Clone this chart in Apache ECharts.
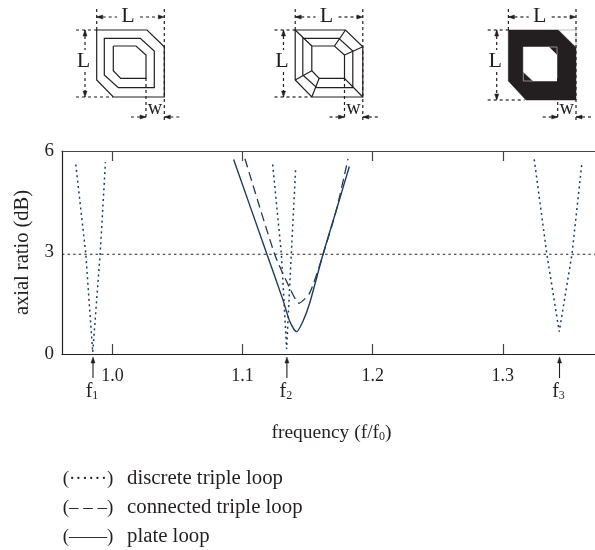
<!DOCTYPE html>
<html><head><meta charset="utf-8">
<style>html,body{margin:0;padding:0;background:#fff}#c{width:595px;height:550px}</style>
<script src="https://cdn.jsdelivr.net/npm/echarts@6/dist/echarts.min.js"></script>
</head><body><div id="c"></div>
<script>
const xTicks = [1.0, 1.1, 1.2, 1.3];
const yTicks = [0, 3, 6];
const referenceLevel = 2.95;
const discreteA = [[0.9718,5.6],[0.9795,2.95],[0.9848,0.05],[0.9905,2.95],[0.9946,5.67]];
const discreteB = [[1.1231,5.6],[1.1298,2.95],[1.1338,0.15],[1.1374,2.95],[1.1408,5.52]];
const discreteC = [[1.3241,5.75],[1.3338,2.95],[1.3433,0.66],[1.3531,2.95],[1.3608,5.67]];
const connected = [[1.1018,5.77],[1.1246,2.95],[1.1362,1.95],[1.1433,1.5],[1.1515,1.8],[1.1605,2.78],[1.172,4.25],[1.181,5.77]];
const plate = [[1.0931,5.75],[1.1187,2.95],[1.131,1.6],[1.1362,0.97],[1.1415,0.66],[1.1464,0.97],[1.1515,1.5],[1.1618,2.95],[1.172,4.25],[1.182,5.54]];
const resonances = [0.9848, 1.1338, 1.3433];
const resonanceNames = ['1','2','3'];
const legendRows = [['(······)','discrete triple loop'],['(– – –)','connected triple loop'],['(——)','plate loop']];

const FONT = '"Liberation Serif", serif';
const INK = '#231f20', NAVY = '#1d3c62';
const chart = echarts.init(document.getElementById('c'));
function curve(data, type, width, smooth){
  return {type:'line',data,symbol:'none',smooth:smooth||false,silent:true,
    lineStyle:{color:NAVY,width:width,type:type}};
}
const dots=[2,3.4], dashes=[9,5];
chart.setOption({
  animation:false,
  backgroundColor:'#fff',
  grid:{left:62,right:0,top:151,bottom:196,show:false},
  xAxis:[{type:'value',min:0.9612,max:1.3708,interval:0.1,
    axisLine:{lineStyle:{color:INK,width:1.2}},
    axisTick:{inside:true,length:10,lineStyle:{color:'#444',width:1.2},customValues:xTicks},
    axisLabel:{color:INK,fontFamily:FONT,fontSize:18,margin:13,customValues:xTicks,formatter:v=>v.toFixed(1)},
    splitLine:{show:false},
    name:'{a|frequency (f/f}{s|0}{a|)}',nameLocation:'middle',nameGap:69,
    nameTextStyle:{padding:[0,0,0,6],rich:{a:{fontFamily:FONT,fontSize:19.5,color:INK},s:{fontFamily:FONT,fontSize:12,color:INK,verticalAlign:'bottom',padding:[8,0,0,0]}}}
  },{type:'value',position:'top',min:0.9612,max:1.3708,interval:0.1,
    axisLine:{show:true,lineStyle:{color:'#444',width:1.2}},
    axisTick:{inside:true,length:10,lineStyle:{color:'#444',width:1.2},customValues:xTicks},
    axisLabel:{show:false},splitLine:{show:false}}],
  yAxis:{type:'value',min:0,max:6,interval:3,
    axisLine:{show:true,lineStyle:{color:INK,width:1.2}},axisTick:{show:false},
    axisLabel:{color:INK,fontFamily:FONT,fontSize:19,margin:8},splitLine:{show:false},
    name:'axial ratio (dB)',nameLocation:'middle',nameGap:24,
    nameTextStyle:{fontFamily:FONT,fontSize:20.5,color:INK}},
  series:[
    {type:'line',data:[[0.9612,referenceLevel],[1.3708,referenceLevel]],symbol:'none',silent:true,
      lineStyle:{color:INK,width:1.1,type:[2.4,3.2]}},
    curve(discreteA,dots,1.5),curve(discreteB,dots,1.5),curve(discreteC,dots,1.5),
    curve(connected,dashes,1.3,0.2),curve(plate,'solid',1.4,0.25)
  ]
});

const g=[];
function poly(pts,o){g.push({type:'polygon',shape:{points:pts},style:Object.assign({fill:'none',stroke:INK,lineWidth:1.2},o||{}),silent:true});}
function seg(a,b,o){g.push({type:'line',shape:{x1:a[0],y1:a[1],x2:b[0],y2:b[1]},style:Object.assign({stroke:INK,lineWidth:1.2},o||{}),silent:true});}
function txt(x,y,t,size,o){g.push({type:'text',x,y,style:Object.assign({text:t,fontFamily:FONT,fontSize:size,fill:INK,align:'center',verticalAlign:'middle'},o||{}),silent:true});}
function head(x,y,dx,dy){
  const px=-dy,py=dx;
  poly([[x,y],[x-dx*6+px*2,y-dy*6+py*2],[x-dx*6-px*2,y-dy*6-py*2]],{fill:INK,stroke:INK,lineWidth:.5});
}
const dd={stroke:INK,lineWidth:1.2,lineDash:[3,3]};
function dims(s,b){
  seg([96.7+s,9],[96.7+s,30],dd);
  seg([164.3+s,9],[164.3+s,120],dd);
  seg([96.7+s,17],[117+s,17],dd); seg([140+s,17],[164.3+s,17],dd);
  head(96.7+s,17,-1,0); head(164.3+s,17,1,0);
  txt(128+s,16.5,'L',22);
  seg([76+s,30],[96.7+s,30],dd); seg([76+s,b],[113+s,b],dd);
  seg([85+s,30],[85+s,50],dd); seg([85+s,72],[85+s,b],dd);
  head(85+s,30,0,-1); head(85+s,b,0,1);
  txt(83.5+s,61,'L',22);
  seg([146+s,78],[146+s,120],dd);
  seg([131+s,117],[146+s,117],dd); seg([164.3+s,117],[181+s,117],dd);
  head(146+s,117,1,0); head(164.3+s,117,-1,0);
  txt(155+s,108.5,'w',20);
}
const outer=[[96.7,30],[147,30],[164.3,46.7],[164.3,97],[113.3,97],[96.7,80]];
const mid=[[104.3,38.3],[140.3,38.3],[154.3,51],[154.3,87.7],[118.3,87.7],[104.3,75]];
const inner=[[113.3,46],[136,46],[146,55],[146,78.3],[120.7,78.3],[113.3,70.7]];
const sh=(p,s)=>p.map(q=>[q[0]+s,q[1]]);
poly(outer);poly(mid);
g.push({type:'polyline',shape:{points:inner.concat([inner[0]])},style:{fill:'none',stroke:INK,lineWidth:1.2},silent:true});
dims(0,97);
const S2=198.5;
poly(sh(outer,S2));poly(sh(mid,S2));poly(sh(inner,S2));
outer.forEach((p,i)=>seg([p[0]+S2,p[1]],[inner[i][0]+S2,inner[i][1]]));
dims(S2,97);
const S3=411.7;
poly([[508.3,30],[558.3,30],[576,47.5],[576,100],[526,100],[508.3,81]],{fill:INK,stroke:INK,lineWidth:.5});
poly([[523.3,47],[549,47],[557,55],[557,81],[533,81],[523.3,72]],{fill:'#fff',stroke:'#fff',lineWidth:.5});
const thin={stroke:'#aaa',lineWidth:.8};
seg([558.3,30],[576,30],thin);seg([576,30],[576,47.5],thin);
seg([549,47],[557,47],thin);seg([557,47],[557,55],thin);
seg([523.3,72],[523.3,81],thin);seg([523.3,81],[533,81],thin);
dims(S3,100);

resonances.forEach((f,i)=>{
  const x=chart.convertToPixel({xAxisIndex:0,yAxisIndex:0},[f,0])[0];
  const x0=x+0.3;
  seg([x0,362],[x0,378],{lineWidth:1.1});
  head(x0,357,0,-1);
  g.push({type:'text',x:x0-1,y:392,style:{
    text:'{a|f}{s|'+resonanceNames[i]+'}',
    rich:{a:{fontFamily:FONT,fontSize:20,fill:INK},s:{fontFamily:FONT,fontSize:12,fill:INK,verticalAlign:'bottom',padding:[8,0,0,0]}},
    align:'center',verticalAlign:'middle'},silent:true});
});
legendRows.forEach((r,i)=>{
  const y=479+i*29;
  txt(88,y,r[0],19,{align:'center'});
  txt(127,y,r[1],20.8,{align:'left'});
});
chart.setOption({graphic:g});
</script></body></html>
